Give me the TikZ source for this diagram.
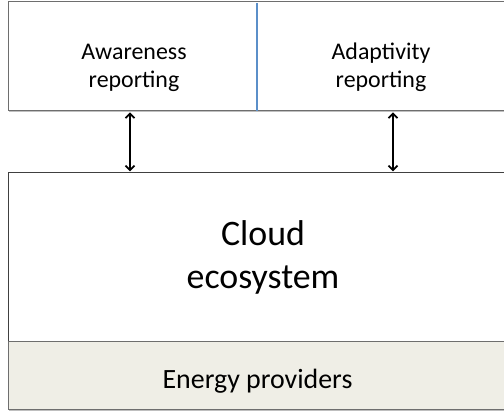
\documentclass[tikz,border=0pt]{standalone}
\usepackage{fontspec}
\setmainfont{Carlito}
\usetikzlibrary{arrows.meta,shadows}
\definecolor{edgegray}{HTML}{6E6E6E}
\definecolor{dividerblue}{HTML}{5B8FC9}
\definecolor{energyfill}{HTML}{EFEEE6}
\tikzset{
  panel/.style={draw=edgegray, line width=1.1bp, fill=white, inner sep=0pt,
    drop shadow={shadow xshift=0.8pt, shadow yshift=-1.6pt, opacity=0.25, fill=black}},
  labeltext/.style={inner sep=0pt, anchor=base, align=center},
  biarrow/.style={draw=black, line width=1.8bp,
    {Straight Barb[length=4.5bp,width=9bp]}-{Straight Barb[length=4.5bp,width=9bp]}},
}
\begin{document}
\begin{tikzpicture}[x=1bp, y=-1bp]
  \useasboundingbox (0,0) rectangle (504,416);

  % reporting layer on top
  \node[panel, minimum width=515bp, minimum height=109bp, anchor=north west] (report) at (7.5,1) {};
  \coordinate (divtop) at (257,3);
  \draw[dividerblue, line width=1.5bp] (divtop) -- (divtop |- report.south);
  % the base anchor of a two-line label sits on its last line
  \node[labeltext, font=\fontsize{24}{28}\selectfont] (aw) at (134,87) {Awareness\\reporting};
  \node[labeltext, font=\fontsize{24}{28}\selectfont] (ad) at (381,87) {Adaptivity\\reporting};

  % cloud ecosystem and energy providers
  \node[panel, draw=black!75, minimum width=515bp, minimum height=169bp, anchor=north west] (cloud) at (7.5,172) {};
  \node[panel, fill=energyfill, minimum width=515bp, minimum height=68bp, anchor=north west] (energy) at (7.5,341) {};
  \node[labeltext, font=\fontsize{36}{43}\selectfont] (cloudtxt) at (263,288) {Cloud\\ecosystem};
  \node[labeltext, font=\fontsize{28}{34}\selectfont] (energytxt) at (257.5,388) {Energy providers};

  % two-way links between the layers
  \coordinate (lx) at (130,0);
  \coordinate (rx) at (393,0);
  \draw[biarrow] ([yshift=-1.2bp]report.south -| lx) -- ([yshift=0.6bp]cloud.north -| lx);
  \draw[biarrow] ([yshift=-1.2bp]report.south -| rx) -- ([yshift=0.6bp]cloud.north -| rx);
\end{tikzpicture}
\end{document}
